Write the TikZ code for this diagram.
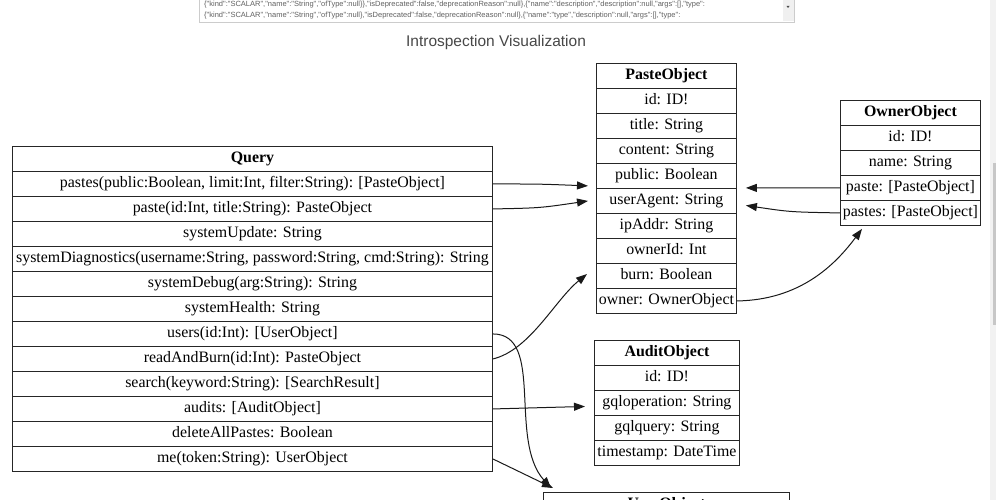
\documentclass[tikz,border=0pt]{standalone}
\usepackage{fontspec}
\setmainfont{Liberation Serif}
\newfontfamily\arialf{Liberation Sans}
\usetikzlibrary{arrows.meta}
\newcommand\mkrec[5]{\foreach \txt [count=\i from 0] in {#5}{\node[cell,minimum width=#4pt] (#1\i) at (#2,{#3+25*\i}) {\txt};}}
\begin{document}
\begin{tikzpicture}[x=1pt,y=-1pt,
  cell/.style={draw=black!85,line width=0.9pt,inner sep=0pt,minimum height=25pt,
    text height=11pt,text depth=3.5pt,
    font=\fontsize{15.9}{18}\selectfont,anchor=north west},
  arr/.style={-{Triangle[length=11pt,width=8pt]},line width=1pt,black!90},
  tatext/.style={anchor=west,inner sep=0pt,font=\arialf\fontsize{7.5}{9}\selectfont,text=black!62}]
\useasboundingbox (0,0) rectangle (996,500);
\clip (0,0) rectangle (996,500);
% textarea
\draw[draw=black!20,fill=white] (199,-2) rectangle (794,22);
\fill[black!6] (783,-1) rectangle (793.5,21.5);
\fill[black!70] (786.5,6) -- (789.5,6) -- (788,8) -- cycle;
\node[tatext] (l1) at (204,5) {\{"kind":"SCALAR","name":"String","ofType":null\}\},"isDeprecated":false,"deprecationReason":null\},\{"name":"description","description":null,"args":[],"type":};
\node[tatext] (l2) at (204,16) {\{"kind":"SCALAR","name":"String","ofType":null\},"isDeprecated":false,"deprecationReason":null\},\{"name":"type","description":null,"args":[],"type":};
% page scrollbar
\fill[black!5] (990,0) rectangle (996,500);
\fill[black!22] (992.5,163) rectangle (996,325);
% title
\node[font=\arialf\fontsize{15.5}{18}\selectfont,text=black!72] (title) at (496,42) {Introspection Visualization};
% records
\mkrec{q}{12}{146}{480}{\textbf{Query},
 {pastes(public:Boolean, limit:Int, filter:String): [PasteObject]},
 {paste(id:Int, title:String): PasteObject},
 systemUpdate: String,
 {systemDiagnostics(username:String, password:String, cmd:String): String},
 systemDebug(arg:String): String,
 systemHealth: String,
 users(id:Int): [UserObject],
 readAndBurn(id:Int): PasteObject,
 search(keyword:String): [SearchResult],
 audits: [AuditObject],
 deleteAllPastes: Boolean,
 me(token:String): UserObject}
\mkrec{p}{596}{63}{140}{\textbf{PasteObject}, id: ID!, title: String, content: String, public: Boolean, userAgent: String, ipAddr: String, ownerId: Int, burn: Boolean, owner: OwnerObject}
\mkrec{o}{840}{100}{140}{\textbf{OwnerObject}, id: ID!, name: String, paste: [PasteObject], pastes: [PasteObject]}
\mkrec{a}{594}{340}{145}{\textbf{AuditObject}, id: ID!, gqloperation: String, gqlquery: String, timestamp: DateTime}
\mkrec{u}{543}{492}{246}{\textbf{UserObject}}
% edges
\draw[arr] (q1.east) .. controls (540,184) .. ([xshift=-8pt,yshift=3pt]p4.south west);
\draw[arr] (q2.east) .. controls (540,208) .. ([xshift=-8pt]p5.west);
\draw[arr] (q8.east) .. controls (530,350) and (555,300) .. ([xshift=-9pt,yshift=-11pt]p8.north west);
\draw[arr] (q7.east) .. controls (545,334) and (508,440) .. ([xshift=8pt,yshift=4pt]u0.north west);
\draw[arr] (q12.east) -- ([xshift=10pt,yshift=4pt]u0.north west);
\draw[arr] (q10.east) -- ([xshift=-9pt,yshift=-3.5pt]a2.west);
\draw[arr] (p9.east) .. controls (800,300) and (835,265) .. ([xshift=22pt,yshift=-3pt]o4.south west);
\draw[arr] (o3.west) -- ([xshift=9pt,yshift=1pt]p4.south east);
\draw[arr] (o4.west) .. controls (790,212) .. ([xshift=9pt,yshift=-4.5pt]p5.east);
\end{tikzpicture}
\end{document}
